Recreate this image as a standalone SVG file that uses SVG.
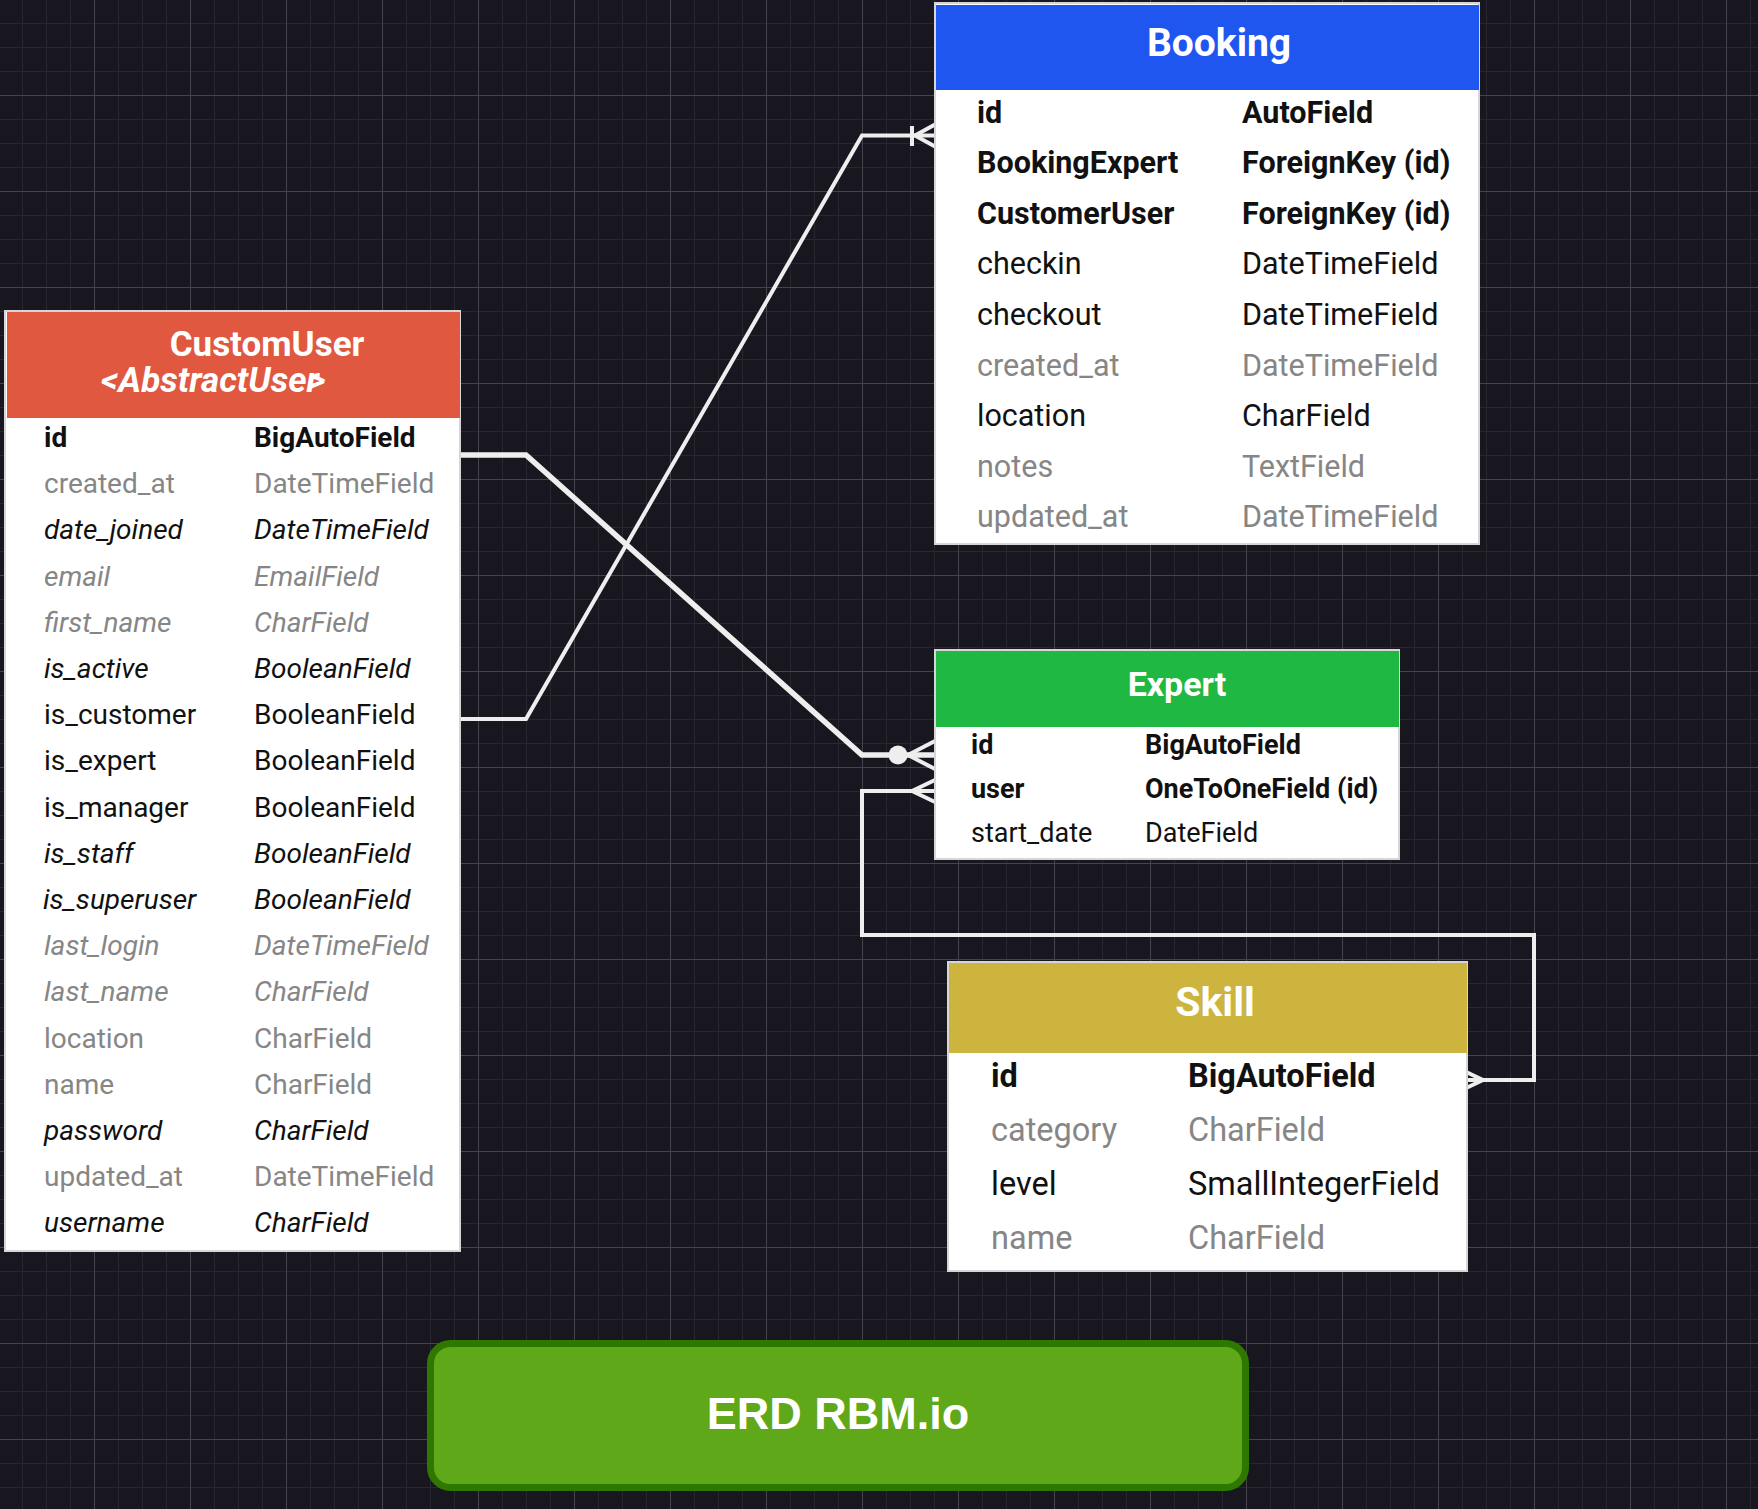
<svg xmlns="http://www.w3.org/2000/svg" width="1758" height="1509" viewBox="0 0 1758 1509">
<style>
.t{font-family:Roboto,"Noto Sans","Liberation Sans",sans-serif}
.b{font-weight:700}
.i{font-style:italic}
.k{fill:#111111}
.g{fill:#868686}
.h{fill:#ffffff;font-weight:700}
.cu{font-size:28px}
.bk{font-size:30.5px}
.ex{font-size:27px}
.sk{font-size:32.5px}
.tb{fill:#ffffff;stroke:#d6d6d6;stroke-width:2}
.c{fill:none;stroke:#eeeeee;stroke-width:4;stroke-linejoin:miter}
.cw{stroke-width:5.5}
</style>
<defs>
<pattern id="grid" width="96" height="96" patternUnits="userSpaceOnUse" x="-2" y="-1">
<rect width="96" height="96" fill="#18161f"/>
<rect x="24" width="1" height="96" fill="#29272f"/>
<rect x="48" width="1" height="96" fill="#29272f"/>
<rect x="72" width="1" height="96" fill="#29272f"/>
<rect y="24" width="96" height="1" fill="#29272f"/>
<rect y="48" width="96" height="1" fill="#29272f"/>
<rect y="72" width="96" height="1" fill="#29272f"/>
<rect x="0" width="1" height="96" fill="#45434b"/>
<rect y="0" width="96" height="1" fill="#45434b"/>
</pattern>
</defs>
<rect width="1758" height="1509" fill="url(#grid)"/>

<g id="connectors">
<path class="c cw" d="M459 455 L526 455 L862 755 L935 755"/>
<circle cx="898" cy="755" r="9.5" fill="#eeeeee"/>
<path class="c" d="M908 755 L935 741 M908 755 L935 769"/>
<path class="c" d="M459 719 L526 719 L862 135.5 L935 135.5"/>
<path class="c" d="M912 126 L912 146 M915 135.5 L935 124.5 M915 135.5 L935 146.5"/>
<path class="c" d="M1467 1080 L1534 1080 L1534 935 L862 935 L862 791 L935 791"/>
<path class="c" d="M912 791 L935 780 M912 791 L935 802"/>
<path class="c" d="M1483 1080 L1462 1070 M1483 1080 L1462 1090"/>
</g>

<g id="CustomUser">
<rect class="tb" x="5" y="311" width="455" height="940"/>
<rect x="7" y="312" width="453" height="106" fill="#e05840"/>
<text class="t h" x="267" y="356" font-size="35" text-anchor="middle">CustomUser</text>
<text class="t h i" x="101" y="392" font-size="35">&lt;AbstractUser<tspan dx="-11">&gt;</tspan></text>
<g class="t cu">
<text class="b k" x="44" y="447">id</text><text class="b k" x="254" y="447">BigAutoField</text>
<text class="g" x="44" y="493.2">created_at</text><text class="g" x="254" y="493.2">DateTimeField</text>
<text class="i k" x="44" y="539.4">date_joined</text><text class="i k" x="254" y="539.4">DateTimeField</text>
<text class="i g" x="44" y="585.6">email</text><text class="i g" x="254" y="585.6">EmailField</text>
<text class="i g" x="44" y="631.8">first_name</text><text class="i g" x="254" y="631.8">CharField</text>
<text class="i k" x="44" y="678">is_active</text><text class="i k" x="254" y="678">BooleanField</text>
<text class="k" x="44" y="724.2">is_customer</text><text class="k" x="254" y="724.2">BooleanField</text>
<text class="k" x="44" y="770.4">is_expert</text><text class="k" x="254" y="770.4">BooleanField</text>
<text class="k" x="44" y="816.6">is_manager</text><text class="k" x="254" y="816.6">BooleanField</text>
<text class="i k" x="44" y="862.8">is_staff</text><text class="i k" x="254" y="862.8">BooleanField</text>
<text class="i k" x="43" y="909">is_superuser</text><text class="i k" x="254" y="909">BooleanField</text>
<text class="i g" x="44" y="955.2">last_login</text><text class="i g" x="254" y="955.2">DateTimeField</text>
<text class="i g" x="44" y="1001.4">last_name</text><text class="i g" x="254" y="1001.4">CharField</text>
<text class="g" x="44" y="1047.6">location</text><text class="g" x="254" y="1047.6">CharField</text>
<text class="g" x="44" y="1093.8">name</text><text class="g" x="254" y="1093.8">CharField</text>
<text class="i k" x="44" y="1140">password</text><text class="i k" x="254" y="1140">CharField</text>
<text class="g" x="44" y="1186.2">updated_at</text><text class="g" x="254" y="1186.2">DateTimeField</text>
<text class="i k" x="44" y="1232.4">username</text><text class="i k" x="254" y="1232.4">CharField</text>
</g>
</g>

<g id="Booking">
<rect class="tb" x="935" y="3" width="544" height="541"/>
<rect x="936" y="5" width="543" height="85" fill="#1e56ef"/>
<text class="t h" x="1219" y="56" font-size="39" text-anchor="middle">Booking</text>
<g class="t bk">
<text class="b k" x="977" y="122.5">id</text><text class="b k" x="1242" y="122.5">AutoField</text>
<text class="b k" x="977" y="173.1">BookingExpert</text><text class="b k" x="1242" y="173.1">ForeignKey (id)</text>
<text class="b k" x="977" y="223.7">CustomerUser</text><text class="b k" x="1242" y="223.7">ForeignKey (id)</text>
<text class="k" x="977" y="274.3">checkin</text><text class="k" x="1242" y="274.3">DateTimeField</text>
<text class="k" x="977" y="324.9">checkout</text><text class="k" x="1242" y="324.9">DateTimeField</text>
<text class="g" x="977" y="375.5">created_at</text><text class="g" x="1242" y="375.5">DateTimeField</text>
<text class="k" x="977" y="426.1">location</text><text class="k" x="1242" y="426.1">CharField</text>
<text class="g" x="977" y="476.7">notes</text><text class="g" x="1242" y="476.7">TextField</text>
<text class="g" x="977" y="527.3">updated_at</text><text class="g" x="1242" y="527.3">DateTimeField</text>
</g>
</g>

<g id="Expert">
<rect class="tb" x="935" y="650" width="464" height="209"/>
<rect x="936" y="651" width="463" height="76" fill="#1fb843"/>
<text class="t h" x="1177" y="696" font-size="34" text-anchor="middle">Expert</text>
<g class="t ex">
<text class="b k" x="971" y="753.5">id</text><text class="b k" x="1145" y="753.5">BigAutoField</text>
<text class="b k" x="971" y="797.5">user</text><text class="b k" x="1145" y="797.5">OneToOneField (id)</text>
<text class="k" x="971" y="841.5">start_date</text><text class="k" x="1145" y="841.5">DateField</text>
</g>
</g>

<g id="Skill">
<rect class="tb" x="948" y="962" width="519" height="309"/>
<rect x="949" y="963" width="518" height="90" fill="#cdb43f"/>
<text class="t h" x="1215" y="1016" font-size="41" text-anchor="middle">Skill</text>
<g class="t sk">
<text class="b k" x="991" y="1087">id</text><text class="b k" x="1188" y="1087">BigAutoField</text>
<text class="g" x="991" y="1141">category</text><text class="g" x="1188" y="1141">CharField</text>
<text class="k" x="991" y="1195">level</text><text class="k" x="1188" y="1195">SmallIntegerField</text>
<text class="g" x="991" y="1249">name</text><text class="g" x="1188" y="1249">CharField</text>
</g>
</g>

<g id="ERD_RBM">
<rect x="430.5" y="1343.5" width="815" height="144" rx="20" fill="#5ea819" stroke="#2f7800" stroke-width="7"/>
<text x="838" y="1429" font-family="'Liberation Sans',Arial,sans-serif" font-weight="700" font-size="45" fill="#ffffff" text-anchor="middle">ERD RBM.io</text>
</g>
</svg>
